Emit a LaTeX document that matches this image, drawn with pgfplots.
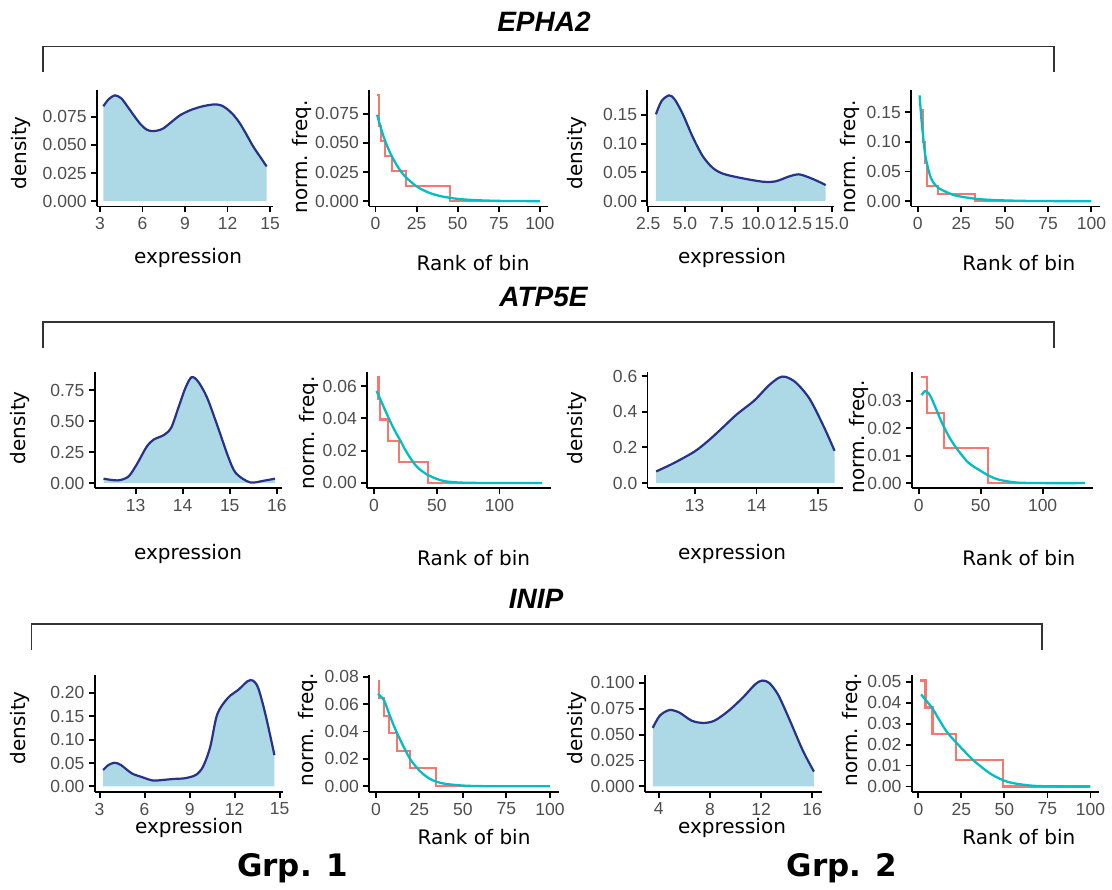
\documentclass[border=0pt]{standalone}
\usepackage{fontspec}
\setmainfont{Liberation Sans}
\newfontfamily\dv{DejaVu Sans}
\usepackage{pgfplots}
\pgfplotsset{compat=1.18}
\definecolor{lb}{HTML}{ADD8E6}
\definecolor{nv}{HTML}{283286}
\definecolor{rd}{HTML}{F8766D}
\definecolor{cy}{HTML}{00BFC4}
\definecolor{tg}{HTML}{4D4D4D}
\definecolor{br}{HTML}{333333}
\newcommand\tk{\fontsize{17.5}{20}\selectfont}
\newcommand\lab{\dv\fontsize{20}{24}\selectfont}
\pgfplotsset{
  pan/.style={scale only axis, height=116.4pt, anchor=south west,
    axis x line*=bottom, axis y line*=left,
    axis line style={line width=1.9pt,-,black},
    tick style={line width=1.9pt,black},
    tick align=outside, major tick length=6pt,
    ticklabel style={font=\tk, text=tg, inner sep=0pt},
    xticklabel shift=5pt, yticklabel shift=4pt,
    scaled x ticks=false, scaled y ticks=false,
    /pgf/number format/assume math mode=true},
  den/.style={fill=lb, draw=none, smooth, tension=0.5},
  denl/.style={nv, line width=2.2pt, smooth, tension=0.5},
  stp/.style={rd, line width=2.1pt, sharp plot},
  fit/.style={cy, line width=2.3pt, smooth, tension=0.5}
}
\begin{document}
\begin{tikzpicture}
\useasboundingbox (0pt,0pt) rectangle (1112pt,890pt);
% ---------------- Row 1: EPHA2
\begin{axis}[pan, at={(96.7pt,683.5pt)}, width=176.6pt,
  xmin=2.77, xmax=15.23, ymin=-0.0047, ymax=0.0988,
  xtick={3,6,9,12,15}, xticklabels={3,6,9,12,15},
  ytick={0,0.025,0.05,0.075}, yticklabels={0.000,0.025,0.050,0.075}]
\addplot[den] coordinates {(3.24,0.0844)(3.6,0.0905)(4.06,0.0941)(4.5,0.0915)(4.88,0.0853)(5.35,0.0770)(5.82,0.0691)(6.25,0.0640)(6.65,0.0623)(7.05,0.0628)(7.47,0.0647)(8.05,0.0705)(8.65,0.0764)(9.35,0.0808)(10.06,0.0838)(10.6,0.0853)(11.12,0.0861)(11.55,0.0852)(11.94,0.0823)(12.4,0.0770)(12.88,0.0691)(13.35,0.0590)(13.82,0.0485)(14.3,0.0395)(14.76,0.0309)} \closedcycle;
\addplot[denl] coordinates {(3.24,0.0844)(3.6,0.0905)(4.06,0.0941)(4.5,0.0915)(4.88,0.0853)(5.35,0.0770)(5.82,0.0691)(6.25,0.0640)(6.65,0.0623)(7.05,0.0628)(7.47,0.0647)(8.05,0.0705)(8.65,0.0764)(9.35,0.0808)(10.06,0.0838)(10.6,0.0853)(11.12,0.0861)(11.55,0.0852)(11.94,0.0823)(12.4,0.0770)(12.88,0.0691)(13.35,0.0590)(13.82,0.0485)(14.3,0.0395)(14.76,0.0309)};
\end{axis}
\begin{axis}[pan, at={(369pt,683.5pt)}, width=179pt,
  xmin=-3.95, xmax=104.95, ymin=-0.0045, ymax=0.0951,
  xtick={0,25,50,75,100}, xticklabels={0,25,50,75,100},
  ytick={0,0.025,0.05,0.075}, yticklabels={0.000,0.025,0.050,0.075}]
\addplot[stp] coordinates {(1,0.0906)(2,0.0906)(2,0.0640)(3.5,0.0640)(3.5,0.0515)(5.65,0.0515)(5.65,0.0388)(9.8,0.0388)(9.8,0.0260)(18.7,0.0260)(18.7,0.0127)(45.2,0.0127)(45.2,0)(100,0)};
\addplot[fit] coordinates {(1,0.0740)(3,0.0639)(5,0.0551)(7,0.0476)(10,0.0382)(14,0.0285)(18,0.0212)(25,0.0127)(32,0.0076)(40,0.0042)(50,0.0020)(60,0.0010)(75,0.0003)(100,0.00005)};
\end{axis}
\begin{axis}[pan, at={(647.4pt,683.5pt)}, width=186.8pt,
  xmin=2.44, xmax=15.17, ymin=-0.0092, ymax=0.1932,
  xtick={2.5,5,7.5,10,12.5,15}, xticklabels={2.5,5.0,7.5,10.0,12.5,15.0},
  ytick={0,0.05,0.1,0.15}, yticklabels={0.00,0.05,0.10,0.15}]
\addplot[den] coordinates {(3.02,0.151)(3.4,0.174)(3.92,0.184)(4.3,0.177)(4.86,0.151)(5.54,0.111)(6.22,0.078)(6.89,0.058)(7.57,0.048)(8.69,0.041)(10.27,0.034)(11.17,0.0345)(12.07,0.0428)(12.75,0.0467)(13.42,0.0416)(14.1,0.0342)(14.59,0.028)} \closedcycle;
\addplot[denl] coordinates {(3.02,0.151)(3.4,0.174)(3.92,0.184)(4.3,0.177)(4.86,0.151)(5.54,0.111)(6.22,0.078)(6.89,0.058)(7.57,0.048)(8.69,0.041)(10.27,0.034)(11.17,0.0345)(12.07,0.0428)(12.75,0.0467)(13.42,0.0416)(14.1,0.0342)(14.59,0.028)};
\end{axis}
\begin{axis}[pan, at={(911pt,683.5pt)}, width=189pt,
  xmin=-3.95, xmax=104.95, ymin=-0.0089, ymax=0.187,
  xtick={0,25,50,75,100}, xticklabels={0,25,50,75,100},
  ytick={0,0.05,0.1,0.15}, yticklabels={0.00,0.05,0.10,0.15}]
\addplot[stp] coordinates {(1.5,0.153)(3,0.153)(3,0.100)(4,0.100)(4,0.064)(5.5,0.064)(5.5,0.0256)(11.5,0.0256)(11.5,0.0128)(33,0.0128)(33,0)(100,0)};
\addplot[fit] coordinates {(1,0.178)(2,0.140)(3,0.110)(4.1,0.0806)(5.5,0.060)(7.2,0.0417)(9,0.031)(12,0.022)(15.5,0.0167)(20,0.011)(25.8,0.0072)(35,0.0035)(46,0.0017)(60,0.0006)(75,0.0002)(100,0.0)};
\end{axis}
% ---------------- Row 2: ATP5E
\begin{axis}[pan, at={(94.6pt,401.7pt)}, width=187.4pt,
  xmin=12.13, xmax=16.11, ymin=-0.0428, ymax=0.899,
  xtick={13,14,15,16}, xticklabels={13,14,15,16},
  ytick={0,0.25,0.5,0.75}, yticklabels={0.00,0.25,0.50,0.75}]
\addplot[den] coordinates {(12.32,0.035)(12.62,0.021)(12.85,0.053)(13.04,0.16)(13.23,0.29)(13.38,0.35)(13.61,0.39)(13.76,0.45)(13.91,0.61)(14.06,0.77)(14.19,0.856)(14.33,0.82)(14.52,0.69)(14.75,0.45)(14.97,0.21)(15.13,0.08)(15.43,0.005)(15.73,0.019)(15.96,0.035)} \closedcycle;
\addplot[denl] coordinates {(12.32,0.035)(12.62,0.021)(12.85,0.053)(13.04,0.16)(13.23,0.29)(13.38,0.35)(13.61,0.39)(13.76,0.45)(13.91,0.61)(14.06,0.77)(14.19,0.856)(14.33,0.82)(14.52,0.69)(14.75,0.45)(14.97,0.21)(15.13,0.08)(15.43,0.005)(15.73,0.019)(15.96,0.035)};
\end{axis}
\begin{axis}[pan, at={(367pt,401.7pt)}, width=183.5pt,
  xmin=-5.65, xmax=140.65, ymin=-0.0033, ymax=0.0688,
  xtick={0,50,100}, xticklabels={0,50,100},
  ytick={0,0.02,0.04,0.06}, yticklabels={0.00,0.02,0.04,0.06}]
\addplot[stp] coordinates {(2,0.0655)(3.5,0.0655)(3.5,0.052)(5,0.052)(5,0.0393)(10.9,0.0393)(10.9,0.0262)(20.1,0.0262)(20.1,0.0131)(43.1,0.0131)(43.1,0)(134,0)};
\addplot[fit] coordinates {(2,0.057)(6,0.050)(10,0.043)(13.8,0.0366)(17.5,0.031)(21,0.0262)(24.5,0.021)(28.2,0.0163)(32,0.0120)(36,0.0087)(42.5,0.0051)(50,0.0025)(57,0.001)(70,0.0002)(90,0)(134,0)};
\end{axis}
\begin{axis}[pan, at={(647.5pt,401.7pt)}, width=195.7pt,
  xmin=12.24, xmax=15.4, ymin=-0.0297, ymax=0.624,
  xtick={13,14,15}, xticklabels={13,14,15},
  ytick={0,0.2,0.4,0.6}, yticklabels={0.0,0.2,0.4,0.6}]
\addplot[den] coordinates {(12.38,0.065)(12.66,0.111)(13.0,0.177)(13.23,0.24)(13.45,0.31)(13.68,0.385)(13.96,0.462)(14.19,0.545)(14.36,0.591)(14.47,0.596)(14.64,0.563)(14.86,0.471)(15.09,0.314)(15.26,0.181)} \closedcycle;
\addplot[denl] coordinates {(12.38,0.065)(12.66,0.111)(13.0,0.177)(13.23,0.24)(13.45,0.31)(13.68,0.385)(13.96,0.462)(14.19,0.545)(14.36,0.591)(14.47,0.596)(14.64,0.563)(14.86,0.471)(15.09,0.314)(15.26,0.181)};
\end{axis}
\begin{axis}[pan, at={(911.7pt,401.7pt)}, width=181.3pt,
  xmin=-5.65, xmax=140.65, ymin=-0.0019, ymax=0.0406,
  xtick={0,50,100}, xticklabels={0,50,100},
  ytick={0,0.01,0.02,0.03}, yticklabels={0.00,0.01,0.02,0.03}]
\addplot[stp] coordinates {(2,0.0387)(6.6,0.0387)(6.6,0.0256)(20.3,0.0256)(20.3,0.0127)(56,0.0127)(56,0)(134,0)};
\addplot[fit] coordinates {(2.3,0.0321)(5.1,0.0336)(8,0.0328)(10.9,0.0304)(15,0.026)(19.4,0.0214)(25,0.0165)(30.9,0.0125)(40,0.0075)(50.9,0.0042)(58,0.0024)(65,0.0012)(79,0.0002)(100,0)(134,0)};
\end{axis}
% ---------------- Row 3: INIP
\begin{axis}[pan, at={(94.6pt,98.3pt)}, width=188.4pt,
  xmin=2.67, xmax=15.22, ymin=-0.0113, ymax=0.2373,
  xtick={3,6,9,12,15}, xticklabels={3,6,9,12,15},
  ytick={0,0.05,0.1,0.15,0.2}, yticklabels={0.00,0.05,0.10,0.15,0.20}]
\addplot[den] coordinates {(3.24,0.035)(3.59,0.0456)(4.0,0.0505)(4.43,0.0456)(5.14,0.028)(5.85,0.0196)(6.56,0.0126)(7.28,0.014)(7.99,0.016)(8.7,0.0175)(9.42,0.0246)(9.89,0.042)(10.37,0.084)(10.84,0.154)(11.55,0.189)(12.27,0.207)(12.86,0.2246)(13.22,0.226)(13.57,0.21)(14.05,0.154)(14.65,0.0667)} \closedcycle;
\addplot[denl] coordinates {(3.24,0.035)(3.59,0.0456)(4.0,0.0505)(4.43,0.0456)(5.14,0.028)(5.85,0.0196)(6.56,0.0126)(7.28,0.014)(7.99,0.016)(8.7,0.0175)(9.42,0.0246)(9.89,0.042)(10.37,0.084)(10.84,0.154)(11.55,0.189)(12.27,0.207)(12.86,0.2246)(13.22,0.226)(13.57,0.21)(14.05,0.154)(14.65,0.0667)};
\end{axis}
\begin{axis}[pan, at={(369pt,98.3pt)}, width=189.5pt,
  xmin=-3.95, xmax=104.95, ymin=-0.0039, ymax=0.081,
  xtick={0,25,50,75,100}, xticklabels={0,25,50,75,100},
  ytick={0,0.02,0.04,0.06,0.08}, yticklabels={0.00,0.02,0.04,0.06,0.08}]
\addplot[stp] coordinates {(1,0.0771)(2,0.0771)(2,0.0646)(4.7,0.0646)(4.7,0.0511)(7.8,0.0511)(7.8,0.039)(12.3,0.039)(12.3,0.026)(19.7,0.026)(19.7,0.0133)(34.8,0.0133)(34.8,0)(100,0)};
\addplot[fit] coordinates {(1.2,0.0675)(4.7,0.0627)(7,0.055)(9.8,0.0458)(12.5,0.038)(15,0.0313)(17.5,0.025)(20,0.0193)(25,0.0115)(30.3,0.006)(35,0.0033)(40.6,0.0017)(51,0.0005)(65,0.0001)(100,0)};
\end{axis}
\begin{axis}[pan, at={(644.7pt,98.3pt)}, width=177.3pt,
  xmin=2.9, xmax=16.77, ymin=-0.0051, ymax=0.1073,
  xtick={4,8,12,16}, xticklabels={4,8,12,16},
  ytick={0,0.025,0.05,0.075,0.1}, yticklabels={0.000,0.025,0.050,0.075,0.100}]
\addplot[den] coordinates {(3.53,0.0565)(4.08,0.0683)(4.83,0.0737)(5.6,0.0714)(6.57,0.0635)(7.48,0.0613)(8.36,0.0635)(9.46,0.073)(10.57,0.0857)(11.53,0.0984)(12.08,0.1022)(12.63,0.1)(13.32,0.0889)(14.15,0.0667)(15.26,0.0349)(16.14,0.0143)} \closedcycle;
\addplot[denl] coordinates {(3.53,0.0565)(4.08,0.0683)(4.83,0.0737)(5.6,0.0714)(6.57,0.0635)(7.48,0.0613)(8.36,0.0635)(9.46,0.073)(10.57,0.0857)(11.53,0.0984)(12.08,0.1022)(12.63,0.1)(13.32,0.0889)(14.15,0.0667)(15.26,0.0349)(16.14,0.0143)};
\end{axis}
\begin{axis}[pan, at={(911.6pt,98.3pt)}, width=187.4pt,
  xmin=-3.95, xmax=104.95, ymin=-0.0025, ymax=0.0531,
  xtick={0,25,50,75,100}, xticklabels={0,25,50,75,100},
  ytick={0,0.01,0.02,0.03,0.04,0.05}, yticklabels={0.00,0.01,0.02,0.03,0.04,0.05}]
\addplot[stp] coordinates {(1,0.0506)(4.1,0.0506)(4.1,0.0377)(8.2,0.0377)(8.2,0.0252)(22.1,0.0252)(22.1,0.0126)(49.2,0.0126)(49.2,0)(100,0)};
\addplot[fit] coordinates {(1.6,0.044)(4.5,0.041)(7.8,0.0377)(12,0.032)(16,0.0267)(21,0.0218)(26.2,0.0173)(31,0.0132)(36.5,0.0094)(41.5,0.0063)(46.7,0.0039)(52,0.0022)(57,0.0013)(67,0.0003)(80,0.00005)(100,0)};
\end{axis}
% ---------------- axis titles
\node[rotate=90,font=\lab] at (20.7pt,737pt) {density};
\node[font=\lab] at (188pt,632pt) {expression};
\node[rotate=90,font=\lab] at (302pt,733pt) {norm. freq.};
\node[font=\lab] at (473pt,627.3pt) {Rank of bin};
\node[rotate=90,font=\lab] at (577pt,737pt) {density};
\node[font=\lab] at (732pt,632pt) {expression};
\node[rotate=90,font=\lab] at (849.6pt,733pt) {norm. freq.};
\node[font=\lab] at (1018.8pt,627.3pt) {Rank of bin};
\node[rotate=90,font=\lab] at (19.6pt,462pt) {density};
\node[font=\lab] at (188pt,336pt) {expression};
\node[rotate=90,font=\lab] at (309pt,457pt) {norm. freq.};
\node[font=\lab] at (473.6pt,332pt) {Rank of bin};
\node[rotate=90,font=\lab] at (577pt,462pt) {density};
\node[font=\lab] at (732pt,336pt) {expression};
\node[rotate=90,font=\lab] at (859pt,453pt) {norm. freq.};
\node[font=\lab] at (1018.8pt,332pt) {Rank of bin};
\node[rotate=90,font=\lab] at (19.6pt,162pt) {density};
\node[font=\lab] at (189pt,62pt) {expression};
\node[rotate=90,font=\lab] at (308pt,160pt) {norm. freq.};
\node[font=\lab] at (474pt,53.3pt) {Rank of bin};
\node[rotate=90,font=\lab] at (577pt,162pt) {density};
\node[font=\lab] at (732pt,62pt) {expression};
\node[rotate=90,font=\lab] at (852pt,160pt) {norm. freq.};
\node[font=\lab] at (1018.8pt,53.3pt) {Rank of bin};
% ---------------- titles and brackets
\node[anchor=base,font=\bfseries\itshape\fontsize{28}{32}\selectfont] at (544pt,858.3pt) {EPHA2};
\node[anchor=base,font=\bfseries\itshape\fontsize{28}{32}\selectfont] at (543.5pt,583pt) {ATP5E};
\node[anchor=base,font=\bfseries\itshape\fontsize{28}{32}\selectfont] at (536pt,281pt) {INIP};
\draw[br,line width=1.4pt] (43pt,818pt) -- (43pt,843.3pt) -- (1054pt,843.3pt) -- (1054pt,818pt);
\draw[br,line width=1.4pt] (43pt,542pt) -- (43pt,568pt) -- (1054pt,568pt) -- (1054pt,542pt);
\draw[br,line width=1.4pt] (31.7pt,240pt) -- (31.7pt,266pt) -- (1042pt,266pt) -- (1042pt,240pt);
\node[anchor=base,font=\dv\bfseries\fontsize{31}{36}\selectfont] at (292.5pt,13pt) {Grp. 1};
\node[anchor=base,font=\dv\bfseries\fontsize{31}{36}\selectfont] at (842pt,13pt) {Grp. 2};
\end{tikzpicture}
\end{document}
